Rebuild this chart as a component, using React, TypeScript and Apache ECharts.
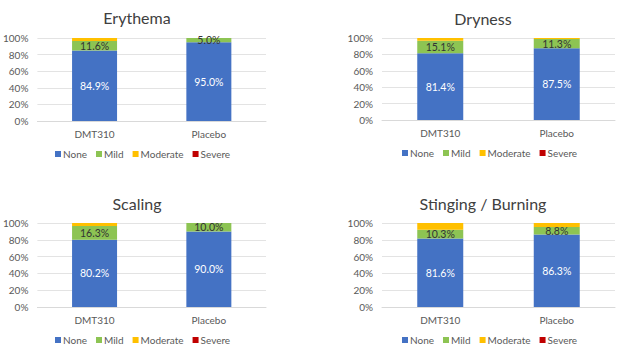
import React, { useEffect, useRef } from "react";
import * as echarts from "echarts";

const panelTitles = ["Erythema", "Dryness", "Scaling", "Stinging / Burning"];
const categories = ["DMT310", "Placebo"];
const severityNames = ["None", "Mild", "Moderate", "Severe"];
const yTicks = [0, 20, 40, 60, 80, 100];

// [DMT310, Placebo] per panel
const noneValues = [
  [84.9, 95.0],
  [81.4, 87.5],
  [80.2, 90.0],
  [81.6, 86.3],
];
const mildValues = [
  [11.6, 5.0],
  [15.1, 11.3],
  [16.3, 10.0],
  [10.3, 8.8],
];
const moderateValues = [
  [3.5, 0],
  [3.5, 1.2],
  [3.5, 0],
  [8.1, 4.9],
];
const severeValues = [
  [0, 0],
  [0, 0],
  [0, 0],
  [0, 0],
];

const COLORS = ["#4472C4", "#8DC453", "#FFC000", "#C00000"];
const FONT = "Lato, 'Noto Sans', sans-serif";

const grids = [
  { left: 37, top: 38, width: 229, height: 83 },
  { left: 382, top: 38, width: 233, height: 82 },
  { left: 37, top: 223, width: 229, height: 84 },
  { left: 382, top: 223, width: 233, height: 84 },
];
const titlePos = [
  [137, 17],
  [483, 18],
  [137, 203],
  [483, 203],
];
const legendPos = [
  [55, 149],
  [402, 148],
  [55, 335],
  [402, 335],
];

export default function App() {
  const ref = useRef<HTMLDivElement>(null);
  useEffect(() => {
    if (!ref.current) return;
    const chart = echarts.init(ref.current, undefined, { renderer: "svg" });
    const allValues = [noneValues, mildValues, moderateValues, severeValues];
    const series: any[] = [];
    for (let p = 0; p < 4; p++) {
      for (let s = 0; s < 4; s++) {
        const showLabel = s < 2;
        series.push({
          type: "bar",
          name: severityNames[s],
          xAxisIndex: p,
          yAxisIndex: p,
          stack: "total" + p,
          barWidth: p % 2 === 0 ? 45 : 46,
          data: allValues[s][p],
          itemStyle: { color: COLORS[s] },
          label: {
            show: showLabel,
            position: "inside",
            color: s === 0 ? "#ffffff" : "#333333",
            fontSize: 10.5,
            fontFamily: FONT,
            formatter: (d: any) => (d.value > 0 ? Number(d.value).toFixed(1) + "%" : ""),
          },
        });
      }
    }
    const option: any = {
      animation: false,
      backgroundColor: "#ffffff",
      textStyle: { fontFamily: FONT },
      graphic: panelTitles.map((t, i) => ({
        type: "text",
        x: titlePos[i][0],
        y: titlePos[i][1],
        style: {
          text: t,
          fontSize: 16,
          fontFamily: FONT,
          fill: "#404040",
          textAlign: "center",
          textVerticalAlign: "middle",
        },
      })),
      legend: legendPos.map((lp) => ({
        left: lp[0],
        top: lp[1],
        padding: 0,
        orient: "horizontal",
        itemWidth: 6,
        itemHeight: 6,
        itemGap: 9,
        icon: "rect",
        selectedMode: false,
        data: severityNames,
        textStyle: { fontSize: 10, color: "#595959", fontFamily: FONT, padding: [0, 0, 0, -3] },
      })),
      grid: grids.map((g) => ({ ...g, containLabel: false })),
      xAxis: grids.map((_, i) => ({
        type: "category",
        gridIndex: i,
        data: categories,
        axisLine: { lineStyle: { color: "#d9d9d9" } },
        axisTick: { show: false },
        axisLabel: { color: "#595959", fontSize: 10, fontFamily: FONT, margin: 8 },
      })),
      yAxis: grids.map((_, i) => ({
        type: "value",
        gridIndex: i,
        min: yTicks[0],
        max: yTicks[yTicks.length - 1],
        interval: 20,
        axisLine: { show: false },
        axisTick: { show: false },
        splitLine: { lineStyle: { color: "#e3e3e3" } },
        axisLabel: {
          color: "#595959",
          fontSize: 10,
          fontFamily: FONT,
          margin: 9,
          formatter: "{value}%",
        },
      })),
      series,
    };
    chart.setOption(option);
    return () => chart.dispose();
  }, []);
  return (
    <div
      ref={ref}
      style={{ position: "fixed", left: 0, top: 0, width: 624, height: 355, background: "#fff" }}
    />
  );
}
